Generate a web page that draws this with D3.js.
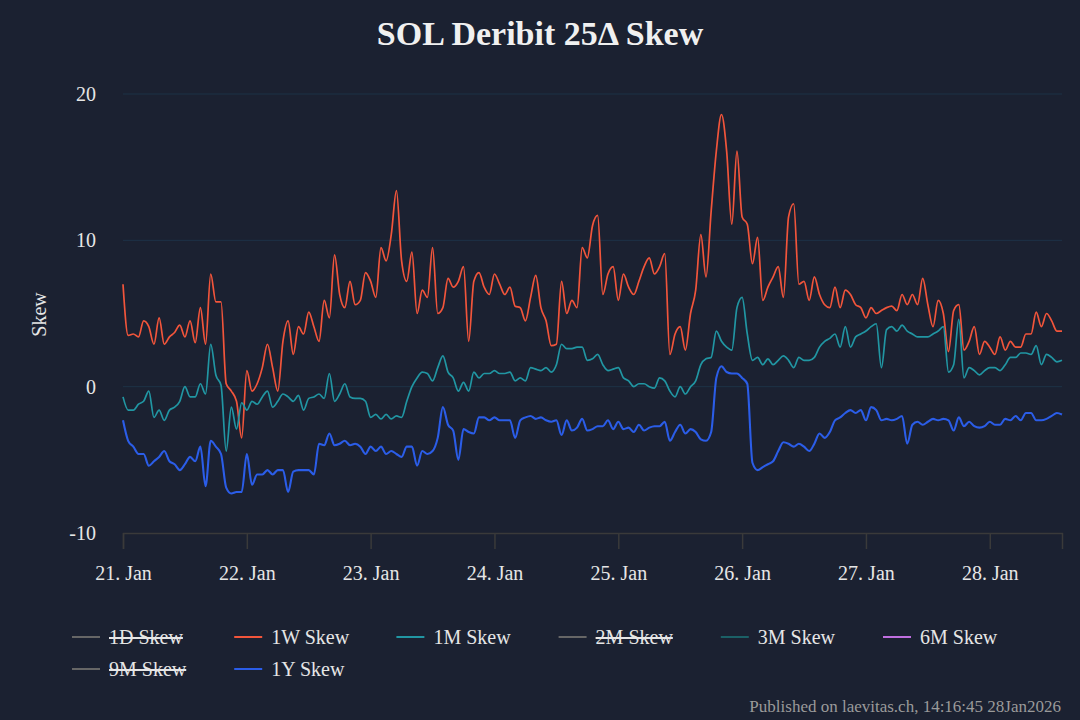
<!DOCTYPE html>
<html>
<head>
<meta charset="utf-8">
<script src="https://cdn.jsdelivr.net/npm/d3@7"></script>
<style>
  html, body { margin: 0; padding: 0; background: #1b2131; }
  svg { display: block; font-family: "Liberation Serif", "DejaVu Serif", serif; }
</style>
</head>
<body>
<div id="chart"></div>
<script>
// hourly samples starting 21 Jan 2026 00:00 UTC
const startTime = Date.UTC(2026, 0, 21, 0, 0)
const stepHours = 1

const skew1W = [
  7.0, 3.5, 3.6, 3.4, 4.5, 4.1, 2.9, 4.7, 2.9, 3.4, 3.7, 4.2, 3.4, 4.5, 3.0, 5.4, 2.9, 7.7, 5.8, 5.8, 0.2, -0.3, -1.0, -3.5,
  1.1, -0.3, 0.2, 1.3, 2.9, 1.3, -0.3, 3.1, 4.5, 2.2, 4.1, 3.6, 5.1, 4.1, 3.1, 5.9, 4.7, 9.0, 6.3, 5.4, 7.2, 5.6, 5.9, 7.8,
  7.2, 6.1, 9.5, 8.6, 10.4, 13.4, 8.6, 7.2, 9.2, 5.0, 6.6, 6.1, 9.5, 5.0, 5.4, 7.4, 6.8, 7.2, 8.2, 3.1, 7.2, 7.8, 6.8, 6.3,
  7.7, 7.0, 6.3, 6.8, 5.5, 5.4, 4.5, 6.1, 7.6, 5.4, 4.5, 2.8, 2.9, 7.2, 5.0, 5.9, 5.4, 9.5, 8.8, 11.0, 11.7, 6.3, 7.7, 8.2,
  5.9, 7.7, 6.8, 6.3, 7.2, 8.2, 8.8, 7.7, 8.2, 9.1, 2.2, 3.6, 4.1, 2.5, 5.0, 6.6, 10.4, 7.5, 12.0, 16.1, 18.6, 16.1, 11.1, 16.1,
  11.6, 11.1, 8.4, 10.2, 5.9, 6.8, 7.5, 8.2, 6.1, 11.6, 12.5, 7.0, 7.2, 5.9, 7.5, 6.3, 5.6, 5.4, 6.8, 5.4, 6.6, 6.3, 5.6, 5.4,
  4.7, 5.4, 5.0, 5.2, 5.4, 5.5, 5.2, 6.3, 5.6, 6.3, 5.6, 7.4, 5.6, 4.1, 5.9, 5.0, 2.4, 5.2, 5.6, 2.5, 3.1, 4.1, 2.2, 3.1,
  2.7, 2.2, 3.4, 2.5, 3.1, 2.7, 2.7, 3.6, 3.6, 5.1, 4.1, 5.0, 4.5, 3.8, 3.8
]

const skew1M = [
  -0.7, -1.6, -1.6, -1.2, -1.0, -0.3, -2.1, -1.6, -2.3, -1.6, -1.4, -1.0, 0.0, -0.7, -0.7, 0.2, -0.5, 2.9, 0.8, 0.1, -4.4, -1.4, -2.9, -1.1,
  -1.6, -1.0, -1.2, -0.7, -0.3, -1.4, -1.0, -0.5, -0.7, -1.0, -0.6, -1.6, -0.8, -0.7, -0.5, -0.8, 0.9, -1.0, -0.5, 0.2, -0.7, -0.8, -0.8, -1.0,
  -2.1, -1.9, -2.2, -1.9, -2.2, -2.0, -2.1, -1.0, 0.0, 0.6, 1.0, 0.9, 0.4, 1.3, 2.1, 1.0, 0.6, -0.3, 0.3, -0.3, 1.0, 0.6, 0.9, 0.9,
  1.1, 0.9, 0.9, 1.0, 0.4, 0.6, 0.4, 1.3, 1.2, 1.1, 1.3, 1.0, 1.5, 2.9, 2.6, 2.6, 2.7, 2.7, 1.8, 1.9, 2.2, 1.5, 1.1, 1.2,
  1.3, 0.6, 0.4, 0.0, 0.2, 0.2, 0.0, -0.1, 0.6, 0.4, -0.3, -0.7, 0.0, -0.5, 0.0, 0.4, 1.5, 1.9, 2.0, 3.8, 3.1, 2.7, 2.5, 5.4,
  6.1, 3.6, 1.8, 2.0, 1.5, 1.9, 1.5, 1.8, 2.1, 1.8, 1.3, 2.0, 1.8, 1.8, 2.0, 2.7, 3.1, 3.3, 3.6, 2.7, 4.1, 2.7, 3.4, 3.6,
  3.8, 4.1, 4.3, 1.3, 3.9, 4.1, 3.8, 4.2, 3.8, 3.6, 3.4, 3.4, 3.4, 3.6, 3.8, 4.1, 1.0, 1.5, 4.6, 0.6, 1.3, 1.1, 0.8, 1.1,
  1.3, 1.3, 1.1, 1.5, 2.0, 2.0, 2.3, 2.3, 2.2, 2.8, 1.5, 2.2, 2.0, 1.7, 1.8
]

const skew1Y = [
  -2.3, -3.7, -4.1, -4.6, -4.6, -5.4, -5.1, -4.8, -4.4, -5.1, -5.3, -5.7, -5.3, -4.8, -5.1, -4.1, -6.8, -3.7, -4.1, -4.6, -6.9, -7.3, -7.2, -7.2,
  -4.6, -6.7, -6.0, -6.0, -5.7, -6.0, -5.7, -5.7, -7.2, -5.8, -5.7, -5.7, -5.7, -6.0, -3.9, -4.0, -3.2, -4.0, -3.9, -3.7, -4.0, -3.9, -4.1, -4.6,
  -4.1, -4.4, -4.1, -4.6, -4.4, -4.6, -4.8, -4.1, -4.1, -5.4, -4.4, -4.6, -4.4, -3.5, -1.4, -2.6, -3.0, -5.0, -2.9, -3.1, -3.2, -2.1, -2.1, -2.3,
  -2.1, -2.3, -2.3, -2.3, -3.5, -2.3, -2.1, -2.0, -2.2, -2.1, -2.3, -2.4, -2.3, -3.3, -2.3, -3.0, -2.8, -2.2, -3.0, -2.9, -2.7, -2.7, -2.3, -2.9,
  -2.4, -2.9, -2.8, -3.1, -2.6, -3.0, -2.8, -2.7, -2.7, -2.4, -3.7, -3.1, -2.6, -3.2, -2.9, -3.1, -3.6, -3.7, -3.1, 0.6, 1.4, 1.0, 0.9, 0.9,
  0.6, 0.2, -5.2, -5.7, -5.5, -5.3, -5.1, -4.4, -3.8, -3.9, -4.1, -3.9, -4.1, -4.4, -3.9, -3.2, -3.5, -3.1, -2.3, -2.1, -1.8, -1.6, -1.8, -1.6,
  -2.3, -1.4, -1.6, -2.3, -2.2, -2.3, -2.2, -2.0, -3.9, -2.6, -2.4, -2.6, -2.4, -2.2, -2.3, -2.2, -2.3, -3.0, -2.1, -2.7, -2.4, -2.7, -2.8, -2.7,
  -2.4, -2.6, -2.6, -2.2, -2.3, -2.0, -2.3, -1.8, -1.8, -2.3, -2.3, -2.2, -2.0, -1.8, -1.9
]

// legend entries; hidden series have no visible line
const legendNames = ["1D Skew", "1W Skew", "1M Skew", "2M Skew", "3M Skew", "6M Skew", "9M Skew", "1Y Skew"]
const legendColors = ["#666666", "#f2553b", "#2196a3", "#666666", "#1b6066", "#c06fe0", "#666666", "#2b5de8"]
const legendHidden = [true, false, false, true, false, false, true, false]

const yTicks = [-10, 0, 10, 20]
const title = "SOL Deribit 25Δ Skew"
const footer = "Published on laevitas.ch, 14:16:45 28Jan2026"

const series = [
  { name: "1W Skew", values: skew1W, color: legendColors[1], width: 1.7 },
  { name: "1M Skew", values: skew1M, color: legendColors[2], width: 1.7 },
  { name: "1Y Skew", values: skew1Y, color: legendColors[7], width: 2.1 }
]

const W = 1080, H = 720
const margin = { top: 94, right: 18, bottom: 187, left: 123 }
const width = W - margin.left - margin.right
const height = H - margin.top - margin.bottom

const svg = d3.select("#chart").append("svg")
    .attr("width", W)
    .attr("height", H)

svg.append("rect").attr("width", W).attr("height", H).attr("fill", "#1b2131")

svg.append("text")
    .attr("x", W / 2)
    .attr("y", 45)
    .attr("text-anchor", "middle")
    .attr("fill", "#f0f0f0")
    .style("font-size", "34px")
    .style("font-weight", "bold")
    .text(title)

const g = svg.append("g")
    .attr("transform", `translate(${margin.left},${margin.top})`)

const toDate = i => new Date(startTime + i * stepHours * 3600 * 1000)
const lastIndex = skew1W.length - 1

const xScale = d3.scaleUtc()
    .domain([toDate(0), toDate(lastIndex)])
    .range([0, width])

const yScale = d3.scaleLinear()
    .domain([-10, 20])
    .range([height, 0])

// horizontal grid
g.append("g")
    .selectAll("line")
    .data(yTicks.filter(d => d !== -10))
    .join("line")
    .attr("x1", 0)
    .attr("x2", width)
    .attr("y1", d => yScale(d))
    .attr("y2", d => yScale(d))
    .attr("stroke", "#1d3247")
    .attr("stroke-width", 1)

// y labels
g.append("g")
    .selectAll("text")
    .data(yTicks)
    .join("text")
    .attr("x", -27)
    .attr("y", d => yScale(d) + 7)
    .attr("text-anchor", "end")
    .attr("fill", "#e6e6e6")
    .style("font-size", "20px")
    .text(d => d)

svg.append("text")
    .attr("transform", `translate(46, ${margin.top + height / 2 + 1}) rotate(-90)`)
    .attr("text-anchor", "middle")
    .attr("fill", "#e6e6e6")
    .style("font-size", "20px")
    .text("Skew")

// x axis
const xAxis = d3.axisBottom(xScale)
    .ticks(d3.utcDay.every(1))
    .tickFormat(d3.utcFormat("%d. %b"))
    .tickSize(16)
    .tickPadding(17)

const xGroup = g.append("g")
    .attr("transform", `translate(0, ${height})`)
    .call(xAxis)

xGroup.select(".domain").attr("stroke", "#3a3a3a").attr("stroke-width", 1.5)
xGroup.selectAll(".tick line").attr("stroke", "#3a3a3a").attr("stroke-width", 1.5)
xGroup.selectAll(".tick text")
    .attr("fill", "#e6e6e6")
    .style("font-size", "20px")
    .style("font-family", "Liberation Serif, serif")

// lines
const line = d3.line()
    .curve(d3.curveMonotoneX)
    .x((d, i) => xScale(toDate(i)))
    .y(d => yScale(d))

g.append("g")
    .selectAll("path")
    .data(series)
    .join("path")
    .attr("fill", "none")
    .attr("stroke", d => d.color)
    .attr("stroke-width", d => d.width)
    .attr("stroke-linejoin", "round")
    .attr("d", d => line(d.values))

// legend
const legend = svg.append("g")
const items = legend.selectAll("g")
    .data(legendNames)
    .join("g")
    .attr("transform", (d, i) => `translate(${72 + (i % 6) * 162.2}, ${637 + Math.floor(i / 6) * 32})`)

items.append("line")
    .attr("x1", 0)
    .attr("x2", 28)
    .attr("y1", 0)
    .attr("y2", 0)
    .attr("stroke", (d, i) => legendColors[i])
    .attr("stroke-width", 2)

items.append("text")
    .attr("x", 37)
    .attr("y", 7)
    .attr("fill", "#e6e6e6")
    .style("font-size", "20px")
    .style("text-decoration", (d, i) => legendHidden[i] ? "line-through" : null)
    .text(d => d)

svg.append("text")
    .attr("x", 1061)
    .attr("y", 712)
    .attr("text-anchor", "end")
    .attr("fill", "#9a9a9a")
    .style("font-size", "17px")
    .text(footer)
</script>
</body>
</html>
